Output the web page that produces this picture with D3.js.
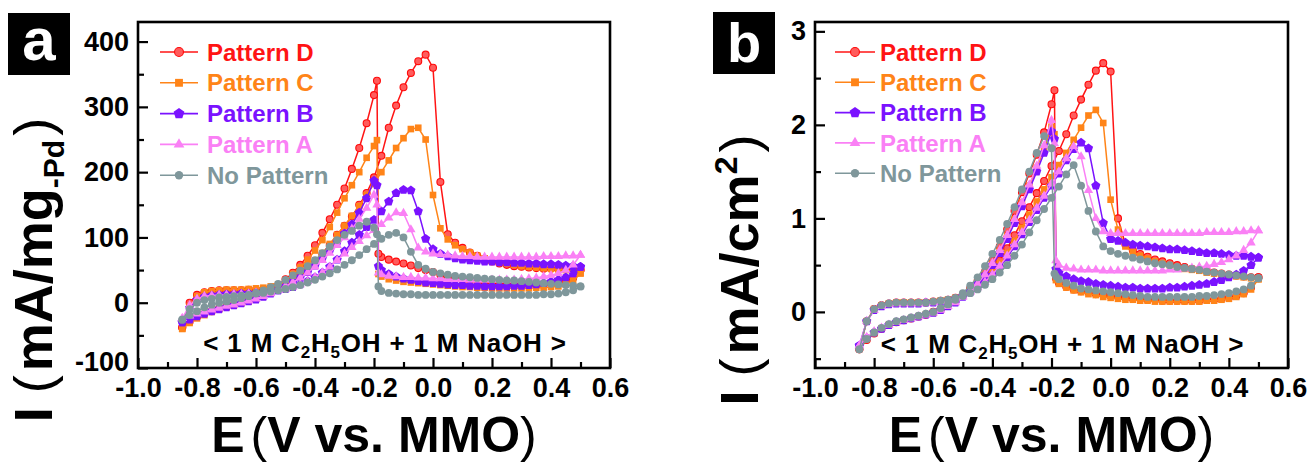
<!DOCTYPE html>
<html><head><meta charset="utf-8">
<script src="https://cdn.jsdelivr.net/npm/d3@7"></script>
<style>
html,body{margin:0;padding:0;background:#fff;}
svg{display:block;}
text{font-family:"Liberation Sans",Arial,Helvetica,sans-serif;}
</style></head><body>
<svg id="chart" width="1311" height="464"></svg>
<script>
// ---------- categories / legend ----------
const seriesNames = ["Pattern D", "Pattern C", "Pattern B", "Pattern A", "No Pattern"];
const seriesColors = ["#ff1414", "#ff8418", "#7a12ff", "#fa80f5", "#7f979b"];

// ---------- potential grids (V vs. MMO) ----------
const fwdE = [-0.85,-0.825,-0.8,-0.775,-0.75, -0.725,-0.7,-0.675,-0.65,-0.625, -0.6,-0.575,-0.55,-0.525,-0.5,
  -0.475,-0.45,-0.425,-0.4,-0.375, -0.35,-0.325,-0.3,-0.275,-0.25, -0.225,-0.2,-0.175,-0.15,-0.125,
  -0.1,-0.075,-0.05,-0.025,0, 0.025,0.05,0.075,0.1,0.125, 0.15,0.175,0.2,0.225,0.25,
  0.275,0.3,0.325,0.35,0.375, 0.4,0.425,0.45,0.475,0.5];
const bwdE = [0.5,0.475,0.45,0.425,0.4, 0.375,0.35,0.325,0.3,0.275, 0.25,0.225,0.2,0.175,0.15,
  0.125,0.1,0.075,0.05,0.025, 0,-0.025,-0.05,-0.075,-0.1, -0.125,-0.15,-0.175,-0.185,-0.19,
  -0.2,-0.225,-0.25,-0.275,-0.3, -0.325,-0.35,-0.375,-0.4,-0.425, -0.45,-0.475,-0.5,-0.525,-0.55,
  -0.575,-0.6,-0.625,-0.65,-0.675, -0.7,-0.725,-0.75,-0.775,-0.8, -0.825,-0.85];

// ---------- panel a : mA/mg-Pd ----------
const aFwdD = [-38,0,12,16,18, 19,19,19,19,20, 20,21,23,26,30, 36,43,52,62,74, 88,104,118,132,150, 168,192,225,268,302, 330,352,370,380,360, 185,105,92,84,77, 72,67,63,60,58, 56,55,54,53,52, 52,52,52,51,50];
const aBwdD = [50,38,33,30,29, 28,28,27,27,28, 29,30,31,32,33, 34,35,37,40,43, 47,50,53,57,60, 63,66,70,75,340, 318,275,237,205,175, 150,128,107,88,72, 58,46,36,26,18, 12,7,3,0,-3, -6,-9,-13,-17,-22, -29,-38];
const aFwdC = [-40,-6,10,16,18, 19,20,20,20,21, 22,23,25,28,32, 38,45,54,64,76, 90,104,118,133,148, 165,182,200,218,237, 252,266,268,250,165, 114,97,88,82,77, 72,68,65,62,60, 58,56,55,54,53, 52,51,50,48,45];
const aBwdC = [45,33,28,25,24, 23,23,22,22,22, 22,22,22,23,23, 24,24,25,26,27, 28,29,30,31,32, 34,36,40,44,249, 240,222,200,180,160, 138,116,96,80,66, 54,44,34,25,17, 11,6,2,-1,-4, -7,-10,-14,-19,-24, -31,-40];
const aFwdB = [-30,-8,4,9,11, 12,13,13,14,14, 15,16,17,19,21, 24,28,33,39,46, 55,66,79,92,104, 116,127,140,155,168, 173,172,140,98,82, 75,71,68,66,65, 64,63,63,62,62, 61,61,60,60,59, 59,58,57,56,55];
const aBwdB = [55,45,39,35,32, 30,28,27,26,26, 25,25,25,25,26, 26,27,27,28,29, 30,31,33,35,37, 40,44,50,56,180, 187,160,138,120,106, 93,80,68,57,47, 39,32,25,19,14, 9,5,2,-1,-4, -7,-10,-13,-17,-21, -26,-30];
const aFwdA = [-24,-4,6,10,11, 12,12,13,13,14, 15,16,17,19,21, 24,28,33,39,46, 55,65,75,85,94, 103,111,120,130,138, 137,112,84,78,75, 74,73,72,71,71, 70,70,70,70,70, 70,70,70,70,71, 71,71,72,72,73];
const aBwdA = [73,58,50,45,42, 40,38,37,36,35, 35,35,35,35,35, 35,36,36,36,37, 37,38,38,39,39, 40,41,43,46,150, 165,145,128,113,100, 88,76,65,55,46, 38,31,25,19,14, 10,6,3,0,-3, -5,-8,-11,-14,-17, -20,-24];
const aFwdN = [-26,-10,0,4,6, 8,9,10,11,12, 14,15,17,19,21, 24,27,31,35,40, 45,51,58,65,73, 82,90,98,104,107, 100,78,58,52,47, 45,43,41,40,39, 38,37,36,35,34, 34,33,32,31,30, 29,28,27,26,25];
const aBwdN = [25,19,16,14,13, 13,12,12,12,12, 12,12,12,12,12, 12,12,12,12,12, 12,12,12,13,13, 14,15,18,25,105, 115,124,118,110,104, 96,86,76,65,56, 49,42,35,29,24, 19,15,10,7,4, 2,0,-3,-7,-13, -19,-26];

// ---------- panel b : mA/cm2 ----------
const bFwdD = [-0.4,-0.1,0.03,0.07,0.09, 0.1,0.1,0.1,0.1,0.1, 0.11,0.12,0.13,0.15,0.18, 0.22,0.28,0.35,0.44,0.55, 0.68,0.82,0.97,1.12,1.27, 1.4,1.56,1.72,1.9,2.1, 2.27,2.43,2.58,2.66,2.57, 1.0,0.72,0.66,0.62,0.59, 0.56,0.54,0.52,0.5,0.48, 0.46,0.45,0.44,0.42,0.41, 0.4,0.39,0.38,0.37,0.37];
const bBwdD = [0.37,0.26,0.2,0.17,0.15, 0.14,0.13,0.13,0.12,0.12, 0.12,0.12,0.12,0.12,0.13, 0.13,0.14,0.14,0.15,0.16, 0.17,0.18,0.19,0.21,0.22, 0.24,0.27,0.31,0.36,2.37, 2.22,1.92,1.68,1.48,1.28, 1.08,0.88,0.7,0.55,0.43, 0.33,0.25,0.18,0.12,0.07, 0.03,0.0,-0.03,-0.05,-0.07, -0.09,-0.11,-0.14,-0.18,-0.23, -0.3,-0.4];
const bFwdC = [-0.38,-0.1,0.03,0.07,0.09, 0.1,0.1,0.1,0.1,0.1, 0.11,0.12,0.13,0.15,0.18, 0.22,0.27,0.34,0.42,0.52, 0.63,0.76,0.9,1.04,1.18, 1.31,1.44,1.57,1.7,1.84, 1.97,2.1,2.16,2.02,1.2, 0.88,0.7,0.64,0.6,0.57, 0.54,0.52,0.5,0.48,0.46, 0.45,0.44,0.42,0.41,0.4, 0.39,0.38,0.37,0.36,0.35];
const bBwdC = [0.35,0.24,0.19,0.16,0.14, 0.13,0.12,0.12,0.11,0.11, 0.11,0.11,0.11,0.11,0.11, 0.12,0.12,0.13,0.13,0.14, 0.15,0.16,0.18,0.19,0.21, 0.23,0.26,0.3,0.34,1.9, 1.98,1.74,1.54,1.35,1.17, 0.99,0.81,0.65,0.51,0.4, 0.31,0.23,0.17,0.11,0.06, 0.02,-0.01,-0.03,-0.05,-0.07, -0.09,-0.11,-0.14,-0.18,-0.23, -0.29,-0.38];
const bFwdB = [-0.36,-0.1,0.02,0.06,0.08, 0.09,0.09,0.09,0.09,0.1, 0.1,0.11,0.12,0.14,0.17, 0.21,0.26,0.32,0.39,0.48, 0.58,0.7,0.83,0.96,1.09, 1.22,1.35,1.48,1.62,1.74, 1.81,1.75,1.35,0.95,0.78, 0.76,0.74,0.72,0.71,0.7, 0.69,0.68,0.67,0.67,0.66, 0.65,0.64,0.63,0.63,0.62, 0.61,0.6,0.6,0.59,0.58];
const bBwdB = [0.58,0.5,0.44,0.4,0.37, 0.34,0.32,0.3,0.29,0.28, 0.27,0.26,0.26,0.25,0.25, 0.25,0.25,0.26,0.26,0.27, 0.28,0.29,0.3,0.32,0.33, 0.35,0.38,0.42,0.46,1.85, 1.93,1.7,1.5,1.31,1.13, 0.95,0.78,0.63,0.5,0.39, 0.3,0.22,0.16,0.1,0.06, 0.02,-0.01,-0.03,-0.05,-0.07, -0.09,-0.11,-0.14,-0.18,-0.22, -0.28,-0.36];
const bFwdA = [-0.36,-0.1,0.02,0.06,0.08, 0.09,0.09,0.09,0.09,0.1, 0.1,0.11,0.12,0.14,0.17, 0.21,0.26,0.32,0.4,0.49, 0.6,0.72,0.85,0.98,1.11, 1.24,1.37,1.5,1.64,1.77, 1.66,1.3,1.0,0.86,0.84, 0.84,0.84,0.84,0.84,0.84, 0.84,0.84,0.84,0.84,0.84, 0.84,0.84,0.85,0.85,0.85, 0.85,0.86,0.86,0.87,0.87];
const bBwdA = [0.87,0.74,0.66,0.6,0.56, 0.53,0.51,0.49,0.48,0.47, 0.46,0.45,0.45,0.44,0.44, 0.44,0.44,0.44,0.44,0.44, 0.44,0.44,0.45,0.45,0.45, 0.46,0.47,0.5,0.55,1.8, 2.05,1.78,1.56,1.36,1.17, 0.99,0.82,0.66,0.52,0.4, 0.3,0.22,0.16,0.1,0.06, 0.02,-0.01,-0.03,-0.05,-0.07, -0.09,-0.11,-0.14,-0.17,-0.21, -0.27,-0.36];
const bFwdN = [-0.4,-0.1,0.03,0.07,0.09, 0.1,0.1,0.1,0.1,0.1, 0.11,0.12,0.13,0.15,0.17, 0.2,0.24,0.29,0.35,0.42, 0.5,0.6,0.72,0.85,0.98, 1.1,1.22,1.34,1.47,1.57, 1.35,1.08,0.86,0.7,0.65, 0.62,0.6,0.58,0.56,0.54, 0.52,0.51,0.5,0.48,0.47, 0.46,0.45,0.43,0.42,0.41, 0.4,0.39,0.38,0.37,0.36];
const bBwdN = [0.36,0.28,0.24,0.22,0.2, 0.19,0.18,0.17,0.17,0.16, 0.16,0.16,0.16,0.16,0.16, 0.16,0.17,0.18,0.19,0.2, 0.21,0.22,0.23,0.24,0.25, 0.28,0.31,0.35,0.38,0.41, 1.75,1.88,1.7,1.5,1.31, 1.12,0.94,0.77,0.62,0.49, 0.37,0.28,0.2,0.13,0.08, 0.04,0.0,-0.02,-0.04,-0.06, -0.08,-0.1,-0.13,-0.17,-0.22, -0.29,-0.4];

// ---------- ticks ----------
const xTicksMajor = [-1.0,-0.8,-0.6,-0.4,-0.2,0,0.2,0.4,0.6];
const xTicksMinor = [-0.9,-0.7,-0.5,-0.3,-0.1,0.1,0.3,0.5];
const aYTicksMajor = [-100,0,100,200,300,400];
const aYTicksMinor = [-50,50,150,250,350];
const bYTicksMajor = [0,1,2,3];
const bYTicksMinor = [-0.5,0.5,1.5,2.5];

// ---------- drawing ----------
const svg = d3.select("#chart");

const symbolPentagon = {
  draw(ctx, size) {
    const r = Math.sqrt(size / 2.3776);
    for (let k = 0; k < 5; k++) {
      const a = -Math.PI / 2 + k * 2 * Math.PI / 5;
      const px = r * Math.cos(a), py = r * Math.sin(a);
      if (k === 0) ctx.moveTo(px, py); else ctx.lineTo(px, py);
    }
    ctx.closePath();
  }
};
const symbolTypes = [d3.symbolCircle, d3.symbolSquare, symbolPentagon, d3.symbolTriangle, d3.symbolCircle];
const plotSizes = [38, 44, 56, 38, 48];
const legendSizes = [62, 62, 76, 50, 56];

function styleMarker(sel, i) {
  if (i === 0) {
    sel.attr("fill", "#ff5c5c").attr("stroke", "#ff0a0a").attr("stroke-width", 1.1);
  } else {
    sel.attr("fill", seriesColors[i]).attr("stroke", "none");
  }
}

const fmtX = d => (d < -1e-9 ? "-" : "") + Math.abs(d).toFixed(1);
const fmtY = d => String(d);

function drawPanel(p) {
  const x = d3.scaleLinear().domain([-1.0, 0.6]).range([p.left, p.right]);
  const y = d3.scaleLinear().domain(p.yDomain).range([p.bottom, p.top]);
  const g = svg.append("g");

  // curves
  p.series.forEach((s, i) => {
    const pts = fwdE.map((e, k) => [e, s.fwd[k]]).concat(bwdE.map((e, k) => [e, s.bwd[k]]));
    g.append("path")
      .attr("d", d3.line().x(d => x(d[0])).y(d => y(d[1]))(pts))
      .attr("fill", "none").attr("stroke", seriesColors[i]).attr("stroke-width", 1.5);
    const sym = d3.symbol().type(symbolTypes[i]).size(plotSizes[i]);
    const m = g.append("g").selectAll("path").data(pts).join("path")
      .attr("transform", d => `translate(${x(d[0])},${y(d[1])})`)
      .attr("d", sym());
    styleMarker(m, i);
  });

  // frame
  g.append("rect").attr("x", p.left).attr("y", p.top)
    .attr("width", p.right - p.left).attr("height", p.bottom - p.top)
    .attr("fill", "none").attr("stroke", "#000").attr("stroke-width", 2.6);

  // axes
  const xa = g.append("g").attr("transform", `translate(0,${p.bottom})`)
    .call(d3.axisBottom(x).tickValues(xTicksMajor).tickSize(-10).tickSizeOuter(0).tickPadding(10).tickFormat(fmtX));
  const xm = g.append("g").attr("transform", `translate(0,${p.bottom})`)
    .call(d3.axisBottom(x).tickValues(xTicksMinor).tickSize(-6).tickSizeOuter(0).tickFormat(""));
  const ya = g.append("g").attr("transform", `translate(${p.left},0)`)
    .call(d3.axisLeft(y).tickValues(p.yMajor).tickSize(-10).tickSizeOuter(0).tickPadding(9).tickFormat(fmtY));
  const ym = g.append("g").attr("transform", `translate(${p.left},0)`)
    .call(d3.axisLeft(y).tickValues(p.yMinor).tickSize(-6).tickSizeOuter(0).tickFormat(""));
  [xa, xm, ya, ym].forEach(a => {
    a.select(".domain").remove();
    a.selectAll("line").attr("stroke", "#000").attr("stroke-width", 2.2);
    a.selectAll("text").attr("fill", "#000").style("font-size", "27px").style("font-weight", "bold")
      .style("font-family", '"Liberation Sans",Arial,sans-serif');
  });
  // keep the lowest y label clear of the first x label
  ya.selectAll(".tick text").filter(d => d === p.yDomain[0]).attr("dy", "0.1em");

  // legend
  seriesNames.forEach((name, i) => {
    const ly = p.legY0 + i * p.legDy;
    g.append("line").attr("x1", p.legX0).attr("x2", p.legX1).attr("y1", ly).attr("y2", ly)
      .attr("stroke", seriesColors[i]).attr("stroke-width", 1.6);
    const mk = g.append("path")
      .attr("transform", `translate(${(p.legX0 + p.legX1) / 2},${ly})`)
      .attr("d", d3.symbol().type(symbolTypes[i]).size(legendSizes[i])());
    styleMarker(mk, i);
    g.append("text").attr("x", p.legTextX).attr("y", ly).attr("dy", "0.36em")
      .attr("fill", seriesColors[i]).style("font-size", "24px").style("font-weight", "bold").text(name);
  });

  // condition annotation
  const ann = g.append("text").attr("x", (p.left + p.right) / 2 + 11).attr("y", p.annY)
    .attr("text-anchor", "middle").style("font-size", "26px").style("font-weight", "bold")
    .style("letter-spacing", "0.8px").attr("fill", "#000");
  ann.append("tspan").text("< 1 M C");
  ann.append("tspan").attr("dy", 6).style("font-size", "17px").text("2");
  ann.append("tspan").attr("dy", -6).text("H");
  ann.append("tspan").attr("dy", 6).style("font-size", "17px").text("5");
  ann.append("tspan").attr("dy", -6).text("OH + 1 M NaOH >");

  // panel tag
  g.append("rect").attr("x", p.tagX).attr("y", p.tagY).attr("width", 62).attr("height", 62).attr("fill", "#000");
  g.append("text").attr("x", p.tagX + 31).attr("y", p.tagY + p.tagBase).attr("text-anchor", "middle")
    .attr("fill", "#fff").style("font-size", p.tagSize + "px").style("font-weight", "bold").text(p.tag);

  // x title
  const xt = g.append("text").attr("x", (p.left + p.right) / 2).attr("y", 452)
    .attr("text-anchor", "middle").style("font-size", "50px").style("font-weight", "bold").attr("fill", "#000");
  xt.append("tspan").text("E");
  xt.append("tspan").style("font-weight", "normal").attr("dx", 6).text("(");
  xt.append("tspan").text("V vs. MMO");
  xt.append("tspan").style("font-weight", "normal").text(")");

  // y title
  const yt = g.append("text").attr("transform", `translate(${p.ytX},270) rotate(-90)`)
    .attr("text-anchor", "middle").style("font-size", "54px").style("font-weight", "bold").attr("fill", "#000");
  yt.append("tspan").text("I");
  yt.append("tspan").style("font-weight", "normal").attr("dx", 14).text("(");
  yt.append("tspan").attr("dx", 4).text(p.ytMain);
  if (p.ytSub) {
    yt.append("tspan").attr("dy", 12).style("font-size", "30px").text(p.ytSub);
    yt.append("tspan").attr("dy", -12).attr("dx", 4).style("font-weight", "normal").text(")");
  } else {
    yt.append("tspan").attr("dy", -21).style("font-size", "32px").text(p.ytSup);
    yt.append("tspan").attr("dy", 21).attr("dx", 4).style("font-weight", "normal").text(")");
  }
}

drawPanel({
  left: 138, right: 610, top: 22, bottom: 368, yDomain: [-100, 430],
  yMajor: aYTicksMajor, yMinor: aYTicksMinor,
  series: [
    {fwd: aFwdD, bwd: aBwdD}, {fwd: aFwdC, bwd: aBwdC}, {fwd: aFwdB, bwd: aBwdB},
    {fwd: aFwdA, bwd: aBwdA}, {fwd: aFwdN, bwd: aBwdN}
  ],
  legX0: 160, legX1: 198, legTextX: 207, legY0: 52, legDy: 30.8,
  annY: 352, tag: "a", tagX: 8, tagY: 13, tagBase: 47, tagSize: 60,
  ytX: 52, ytMain: "mA/mg", ytSub: "-Pd"
});
drawPanel({
  left: 815, right: 1288, top: 22, bottom: 368, yDomain: [-0.6, 3.1],
  yMajor: bYTicksMajor, yMinor: bYTicksMinor,
  series: [
    {fwd: bFwdD, bwd: bBwdD}, {fwd: bFwdC, bwd: bBwdC}, {fwd: bFwdB, bwd: bBwdB},
    {fwd: bFwdA, bwd: bBwdA}, {fwd: bFwdN, bwd: bBwdN}
  ],
  legX0: 835, legX1: 875, legTextX: 880, legY0: 52, legDy: 30.3,
  annY: 353, tag: "b", tagX: 713, tagY: 12, tagBase: 50, tagSize: 56,
  ytX: 758, ytMain: "mA/cm", ytSup: "2"
});
</script>
</body></html>
